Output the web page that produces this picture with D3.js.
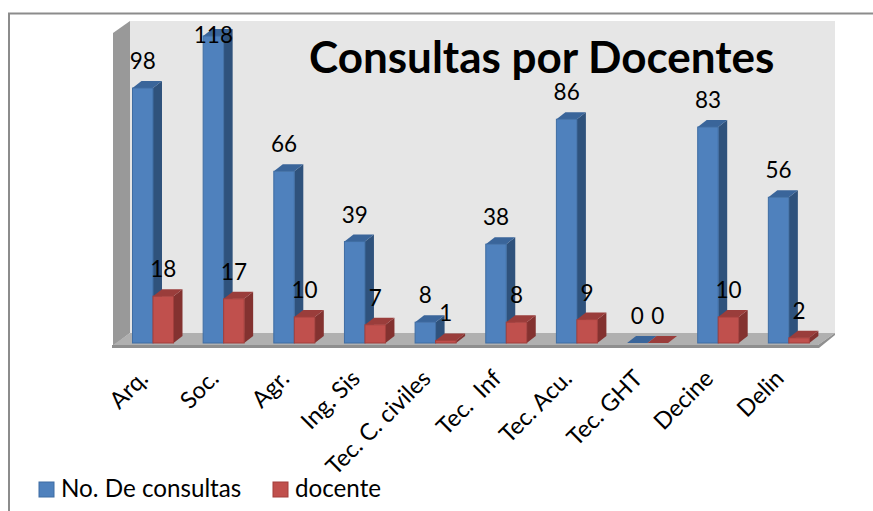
<!DOCTYPE html>
<html>
<head>
<meta charset="utf-8">
<script src="https://d3js.org/d3.v7.min.js"></script>
<style>
html, body { margin: 0; padding: 0; background: #fff; }
svg { display: block; }
text { font-family: Lato, "Open Sans", sans-serif; fill: #000; }
</style>
</head>
<body>
<script>
var width = 873
var height = 511

var categories = ['Arq.', 'Soc.', 'Agr.', 'Ing. Sis', 'Tec. C. civiles', 'Tec.  Inf', 'Tec. Acu.', 'Tec. GHT', 'Decine', 'Delin']
var consultas = [98, 118, 66, 39, 8, 38, 86, 0, 83, 56]
var docentes = [18, 17, 10, 7, 1, 8, 9, 0, 10, 2]
var seriesNames = ['No. De consultas', 'docente']

var colors = [
    { front: '#4f81bd', side: '#2f527c', top: '#3a659a', edge: '#3f6da3' },
    { front: '#c0504d', side: '#833230', top: '#9a3d3b', edge: '#a33f3c' }
]

// depth of the fake 3d
var dx = 9, dy = -7

var floorY = 343
var x = d3.scaleBand().domain(d3.range(categories.length)).range([132.5, 839]).paddingInner(0).paddingOuter(0)
var y = d3.scaleLinear().domain([0, 118]).range([floorY, 36])
var barW = 20.5

var svg = d3.select('body').append('svg')
    .attr('width', width)
    .attr('height', height)

// outer frame, only left and top show in the picture
svg.append('path')
    .attr('d', 'M9,511V13.5H873')
    .attr('fill', 'none')
    .attr('stroke', '#8c8c8c')
    .attr('stroke-width', 2)

// walls + floor
var wall = svg.append('g')
wall.append('path').attr('d', 'M130,21H835V333H130Z').attr('fill', '#e6e6e6')
wall.append('path').attr('d', 'M113,33L130,21V333L113,346Z').attr('fill', '#999')
wall.append('path').attr('d', 'M113,345L130,333H835L818,345Z').attr('fill', '#b0b0b0')
wall.append('path').attr('d', 'M112,345H818L835,333V335L819,348H112Z').attr('fill', '#8f8f8f')

svg.append('text')
    .attr('x', 309)
    .attr('y', 73)
    .attr('font-size', 44)
    .attr('font-weight', 700)
    .text('Consultas por Docentes')

function drawBars(values, s) {
    var c = colors[s]
    var g = svg.append('g').selectAll('g')
        .data(values)
        .join('g')
    var left = (d, i) => x(i) + s * barW

    g.append('path')
        .attr('fill', c.side)
        .attr('d', (d, i) => {
            var r = left(d, i) + barW
            return `M${r},${y(d)}l${dx},${dy}V${floorY + dy}l${-dx},${-dy}Z`
        })
    g.append('path')
        .attr('fill', c.top)
        .attr('d', (d, i) => {
            var l = left(d, i)
            return `M${l},${y(d)}l${dx},${dy}h${barW}l${-dx},${-dy}Z`
        })
    g.append('rect')
        .attr('x', left)
        .attr('y', d => y(d))
        .attr('width', barW)
        .attr('height', d => floorY - y(d))
        .attr('fill', c.front)
        .attr('stroke', c.edge)
        .attr('stroke-width', d => d > 0 ? 1 : 0)
}

drawBars(consultas, 0)
drawBars(docentes, 1)

function drawLabels(values, s) {
    svg.append('g').selectAll('text')
        .data(values)
        .join('text')
        .attr('x', (d, i) => x(i) + s * barW + barW / 2)
        .attr('y', d => Math.max(y(d) - 19, 43))
        .attr('text-anchor', 'middle')
        .attr('font-size', 22.5)
        .text(d => d)
}

drawLabels(consultas, 0)
drawLabels(docentes, 1)

// category labels
svg.append('g').selectAll('text')
    .data(categories)
    .join('text')
    .attr('transform', (d, i) => `translate(${x(i) + 17},380) rotate(-45)`)
    .attr('text-anchor', 'end')
    .attr('font-size', 23.5)
    .style('white-space', 'pre')
    .text(d => d)

// legend
var legendX = [39, 273]
var legend = svg.append('g').selectAll('g')
    .data(seriesNames)
    .join('g')
    .attr('transform', (d, i) => `translate(${legendX[i]},482)`)
legend.append('rect')
    .attr('width', 15)
    .attr('height', 15)
    .attr('fill', (d, i) => colors[i].front)
    .attr('stroke', (d, i) => colors[i].edge)
legend.append('text')
    .attr('x', 22)
    .attr('y', 15)
    .attr('font-size', 24.2)
    .text(d => d)
</script>
</body>
</html>
